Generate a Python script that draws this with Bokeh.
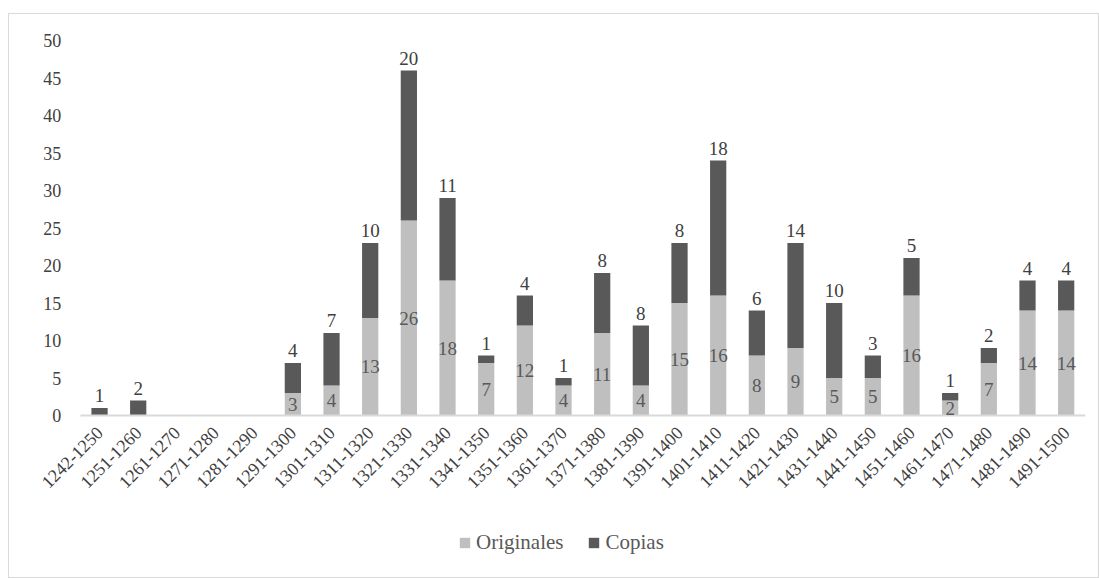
from bokeh.plotting import figure
from bokeh.models import ColumnDataSource, Range1d, LabelSet, Legend, LegendItem, FixedTicker
from bokeh.embed import file_html
from bokeh.resources import INLINE
import math

categories = ["1242-1250", "1251-1260", "1261-1270", "1271-1280", "1281-1290", "1291-1300",
              "1301-1310", "1311-1320", "1321-1330", "1331-1340", "1341-1350", "1351-1360",
              "1361-1370", "1371-1380", "1381-1390", "1391-1400", "1401-1410", "1411-1420",
              "1421-1430", "1431-1440", "1441-1450", "1451-1460", "1461-1470", "1471-1480",
              "1481-1490", "1491-1500"]
originales = [0, 0, 0, 0, 0, 3, 4, 13, 26, 18, 7, 12, 4, 11, 4, 15, 16, 8, 9, 5, 5, 16, 2, 7, 14, 14]
copias = [1, 2, 0, 0, 0, 4, 7, 10, 20, 11, 1, 4, 1, 8, 8, 8, 18, 6, 14, 10, 3, 5, 1, 2, 4, 4]
y_ticks = [0, 5, 10, 15, 20, 25, 30, 35, 40, 45, 50]

FONT = "Liberation Serif"
C_ORIG = "#bfbfbf"
C_COP = "#595959"
TXT = "#404040"

n = len(categories)
xi = list(range(n))
total = [o + c for o, c in zip(originales, copias)]
src = ColumnDataSource(dict(x=xi, Originales=originales, Copias=copias, total=total))

p = figure(x_range=Range1d(-2.07, n - 0.5), y_range=Range1d(-21.2, 52.67),
           width=1091, height=565, output_backend="svg", toolbar_location=None,
           min_border_left=10, min_border_right=15, min_border_top=6, min_border_bottom=5)
p.styles = {"margin": "13px 0 0 8px", "border": "1px solid #d9d9d9"}

r = p.vbar_stack(["Originales", "Copias"], x="x", width=0.42, color=[C_ORIG, C_COP],
                 line_color=None, source=src)

p.xgrid.grid_line_color = None
p.ygrid.grid_line_color = None
p.outline_line_color = None
p.background_fill_color = "white"

p.yaxis.fixed_location = -0.5
p.yaxis.bounds = (0, 50)
p.yaxis.ticker = FixedTicker(ticks=y_ticks)
p.yaxis.axis_line_color = None
p.yaxis.major_tick_line_color = None
p.yaxis.minor_tick_line_color = None
p.yaxis.major_label_text_font = FONT
p.yaxis.major_label_text_font_size = "18px"
p.yaxis.major_label_text_color = TXT
p.yaxis.major_label_standoff = 13

p.xaxis.fixed_location = 0
p.xaxis.bounds = (-0.5, n - 0.5)
p.xaxis.ticker = FixedTicker(ticks=xi)
p.xaxis.major_label_overrides = {i: c for i, c in zip(xi, categories)}
p.xaxis.axis_line_color = "#d9d9d9"
p.xaxis.axis_line_width = 2
p.xaxis.major_tick_line_color = None
p.xaxis.minor_tick_line_color = None
p.xaxis.major_label_orientation = math.pi / 4
p.xaxis.major_label_text_font = FONT
p.xaxis.major_label_text_font_size = "18px"
p.xaxis.major_label_text_color = TXT
p.xaxis.major_label_standoff = 8

# labels
osrc = ColumnDataSource(dict(
    x=[i for i, o in zip(xi, originales) if o > 0],
    y=[o / 2 for o in originales if o > 0],
    t=[str(o) for o in originales if o > 0]))
csrc = ColumnDataSource(dict(
    x=[i for i, cc in zip(xi, copias) if cc > 0],
    y=[tt for tt, cc in zip(total, copias) if cc > 0],
    t=[str(cc) for cc in copias if cc > 0]))
p.add_layout(LabelSet(x="x", y="y", text="t", source=osrc, text_align="center",
                      text_baseline="middle", text_font=FONT, text_font_size="19px",
                      text_color="#595959"))
p.add_layout(LabelSet(x="x", y="y", text="t", source=csrc, text_align="center",
                      text_baseline="bottom", y_offset=6, text_font=FONT, text_font_size="19px",
                      text_color=TXT))

legend = Legend(items=[LegendItem(label="Originales", renderers=[r[0]]),
                       LegendItem(label="Copias", renderers=[r[1]])],
                orientation="horizontal", location=(439, 19),
                label_text_font=FONT, label_text_font_size="21px", label_text_color="#595959",
                glyph_width=13, glyph_height=13, spacing=24, label_standoff=5,
                border_line_color=None, background_fill_alpha=0, margin=0, padding=0)
p.add_layout(legend, "center")

open("out.html", "w").write(file_html(p, INLINE))
